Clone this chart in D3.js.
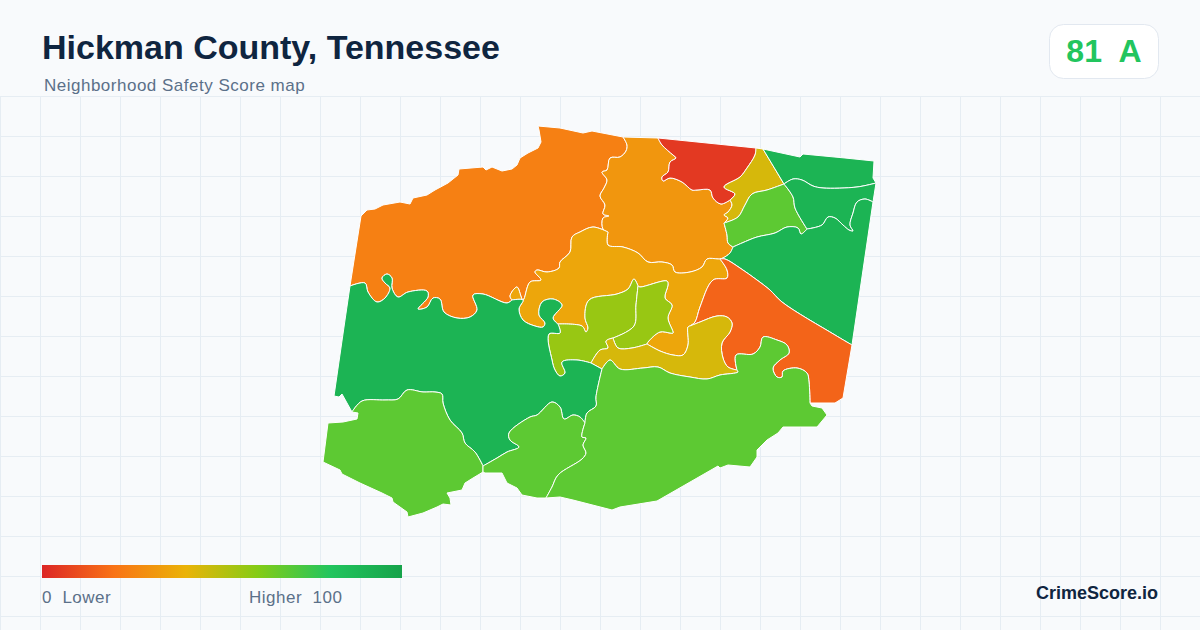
<!DOCTYPE html>
<html>
<head>
<meta charset="utf-8">
<script src="https://cdn.jsdelivr.net/npm/d3@7"></script>
<style>
html, body { margin: 0; padding: 0; background: #f8fafc; }
svg { display: block; }
text { font-family: "Liberation Sans", Arial, sans-serif; white-space: pre; }
</style>
</head>
<body>
<script>
var width = 1200;
var height = 630;

// legend colour ramp
var rampScores = [0, 20, 40, 60, 80, 100];
var rampColors = ['#dc2626', '#f97316', '#eab308', '#84cc16', '#22c55e', '#16a34a'];

// shared borders (planar map units)
var westCoast = [[350,286],[361,216],[367,210],[375,209],[383,205],[400,202],[410,204],[413,198],[427,195],[435,190],[448,183],[458,175],[459,169],[483,167],[486,170],[492,167],[502,171],[512,169],[517,165],[520,158],[528,153],[538,148],[541,142],[539,130],[538,126],[560,128],[583,133],[592,131],[623,137]];
var nwN = [[623,137],[627,145],[626,151],[620,157],[610,158],[607,170],[602,172],[607,180],[604,188],[600,196],[605,205],[603,214],[609,216],[603,218],[603,229],[608,232]];
var nwG = [[608,232],[593,227],[580,232],[572,237],[570,252],[560,262],[559,268],[547,272],[537,270],[535,272],[541,280],[530,282],[523,300],[517,287],[510,296],[512,300]];
var nwK = [[350,286],[365,283],[368,292],[377,302],[385,298],[390,288],[385,283],[382,278],[387,274],[392,278],[392,288],[398,297],[408,292],[427,291],[428,297],[418,309],[427,307],[433,298],[440,299],[444,312],[457,318],[470,317],[477,310],[473,295],[483,294],[507,303],[512,300]];
var gK = [[512,300],[523,300],[519,309],[523,320],[535,326],[543,327],[545,323],[539,315],[542,302],[553,299],[562,305],[553,318],[558,324]];
var gIw = [[558,324],[582,326],[586,332],[588,328],[585,318],[589,300],[617,294],[628,289],[634,279],[638,286]];
var gIe = [[638,286],[640,287],[667,281],[668,285],[665,298],[672,305],[668,318],[673,333],[670,333],[660,332],[648,342],[647,344]];
var gJ = [[647,344],[660,351],[673,355],[683,355],[688,345],[688,327],[690,326]];
var gH = [[690,326],[695,322],[700,307],[713,280],[727,278],[727,270],[720,259]];
var gN = [[608,232],[608,245],[623,247],[638,253],[648,262],[662,262],[672,265],[675,272],[690,272],[702,267],[707,259],[718,259],[720,259]];
var nTop = [[623,137],[658,138]];
var nC = [[658,138],[662,145],[673,155],[676,158],[670,162],[668,172],[662,177],[663,181],[670,178],[682,182],[692,190],[697,190],[710,190],[713,198],[721,204],[730,200]];
var nD = [[730,200],[732,205],[728,212],[724,215],[728,218],[724,223]];
var nF = [[724,223],[727,235],[728,243],[733,247]];
var nE = [[733,247],[730,253],[723,258],[720,259]];
var cTop = [[658,138],[756,148]];
var cD = [[756,148],[755,155],[747,168],[740,177],[724,187],[735,194],[730,200]];
var dTop = [[756,148],[763,149]];
var dE = [[763,149],[784,184]];
var dF = [[784,184],[767,190],[752,194],[745,205],[738,217],[724,223]];
var fEm = [[784,184],[793,197],[795,208],[807,229]];
var fE = [[807,229],[801,234],[798,228],[787,227],[775,233],[757,237],[742,243],[733,247]];
var eTop = [[763,149],[800,157],[803,154],[845,158],[874,161],[873,178],[876,183]];
var eSplit = [[876,183],[857,187],[823,188],[813,186],[802,180],[793,179],[784,184]];
var emEast = [[876,183],[873,202]];
var emBig = [[807,229],[822,225],[828,217],[835,218],[843,225],[849,230],[853,231],[850,225],[853,213],[857,202],[865,199],[873,202]];
var eEast = [[873,202],[852,345]];
var eH = [[852,345],[835,335],[782,302],[770,290],[757,280],[740,268],[725,259],[720,259]];
var hSouth = [[852,345],[843,398],[835,403],[810,403]];
var hJ = [[690,326],[700,322],[717,316],[727,317],[732,323],[730,332],[722,343],[723,358],[728,367],[737,370]];
var hL = [[737,370],[736,355],[753,354],[760,347],[763,337],[777,340],[787,345],[789,353],[780,360],[773,368],[777,377],[782,377],[783,371],[797,368],[807,373],[809,382],[810,403]];
var jL = [[737,370],[738,372],[720,375],[707,379],[690,377],[670,373],[658,367],[643,368],[620,369],[610,360],[602,369]];
var jK = [[602,369],[591,363]];
var jI = [[591,363],[600,350],[608,348],[606,341],[613,338]];
var jIe = [[613,338],[618,348],[632,348],[647,344]];
var iSplit = [[613,338],[634,326],[636,305],[638,286]];
var iK = [[591,363],[577,360],[562,362],[565,373],[560,376],[555,370],[552,360],[549,334],[560,333],[558,324]];
var kWest = [[350,286],[345,320],[334,396],[339,397],[342,394],[352,412]];
var kSw = [[352,412],[362,401],[385,400],[398,399],[407,390],[423,392],[435,392],[442,394],[443,403],[450,420],[462,433],[465,443],[475,452],[483,466]];
var kS = [[483,466],[497,458],[507,452],[519,447],[510,440],[509,433],[530,417],[537,415],[552,402],[560,407],[564,419],[573,415],[580,417],[585,423]];
var kL = [[585,423],[587,413],[596,406],[596,397],[602,369]];
var swCoast = [[483,466],[483,472],[473,478],[465,483],[462,490],[447,493],[450,498],[451,505],[443,504],[437,507],[423,513],[408,517],[407,512],[393,502],[392,498],[382,493],[360,483],[342,474],[340,470],[323,462],[328,423],[343,422],[357,419],[358,413],[352,412]];
var sSplit = [[585,423],[582,437],[586,438],[583,445],[586,453],[582,459],[558,475],[552,487],[546,498]];
var sCoast = [[483,466],[483,472],[485,473],[502,473],[507,483],[517,488],[522,495],[537,498],[546,498]];
var lCoast = [[546,498],[560,497],[573,500],[612,510],[620,507],[657,501],[718,466],[720,468],[728,465],[750,467],[757,457],[757,450],[767,440],[778,433],[783,427],[817,427],[827,415],[822,408],[812,406],[810,403]];

// neighbourhood scores
var regionScores = [24, 31, 5, 44, 68, 90, 90, 90, 36, 16, 56, 56, 44, 90, 68, 68, 68];

// the county outline stays angular, inner borders get smoothed
[westCoast, nTop, cTop, dTop, eTop, emEast, eEast, hSouth, kWest, swCoast, sCoast, lCoast].forEach(function(a) {
    a.outer = true;
});

function back(arc) {
    var r = arc.slice().reverse();
    r.outer = arc.outer;
    return r;
}

var regionRings = [
    [westCoast, nwN, nwG, back(nwK)],
    [nTop, nC, nD, nF, nE, back(gN), back(nwN)],
    [cTop, cD, back(nC)],
    [dTop, dE, dF, back(nD), back(cD)],
    [back(dF), fEm, fE, back(nF)],
    [eTop, eSplit, back(dE)],
    [emEast, back(emBig), back(fEm), back(eSplit)],
    [emBig, eEast, eH, back(nE), back(fE)],
    [gN, back(gH), back(gJ), back(gIe), back(gIw), back(gK), back(nwG)],
    [gH, back(eH), hSouth, back(hL), back(hJ)],
    [gIw, back(iSplit), back(jI), iK],
    [gIe, back(jIe), iSplit],
    [gJ, hJ, jL, jK, jI, jIe],
    [nwK, gK, back(iK), back(jK), back(kL), back(kS), back(kSw), back(kWest)],
    [kSw, swCoast],
    [kS, sSplit, back(sCoast)],
    [back(jL), hL, back(lCoast), back(sSplit), kL]
];

var svg = d3.select('body')
    .append('svg')
    .attr('width', width)
    .attr('height', height);

svg.append('rect')
    .attr('width', width)
    .attr('height', height)
    .attr('fill', '#f8fafc');

// background grid
var grid = svg.append('g')
    .attr('stroke', '#e6edf3')
    .attr('stroke-width', 1);

grid.selectAll('.v')
    .data(d3.range(0, width, 40))
    .enter()
    .append('line')
    .attr('x1', function(d) { return d + 0.5; })
    .attr('x2', function(d) { return d + 0.5; })
    .attr('y1', 96)
    .attr('y2', height);

grid.selectAll('.h')
    .data(d3.range(96, height, 40))
    .enter()
    .append('line')
    .attr('x1', 0)
    .attr('x2', width)
    .attr('y1', function(d) { return d + 0.5; })
    .attr('y2', function(d) { return d + 0.5; });

var color = d3.scaleLinear()
    .domain(rampScores)
    .range(rampColors);

// each border gets its own curve so neighbours line up exactly
var innerLine = d3.line().curve(d3.curveCatmullRom.alpha(0.5));
var outerLine = d3.line();

function ringPath(arcs) {
    var d = arcs.map(function(a, i) {
        var s = a.outer ? outerLine(a) : innerLine(a);
        return i === 0 ? s : 'L' + s.slice(1);
    });
    return d.join('') + 'Z';
}

svg.append('g')
    .selectAll('path')
    .data(regionRings)
    .enter()
    .append('path')
    .attr('d', ringPath)
    .attr('fill', function(d, i) { return color(regionScores[i]); })
    .attr('stroke', '#ffffff')
    .attr('stroke-width', 1)
    .attr('stroke-linejoin', 'round');

// header
svg.append('text')
    .attr('x', 42)
    .attr('y', 59)
    .attr('font-size', 34)
    .attr('font-weight', 700)
    .attr('fill', '#0f2540')
    .text('Hickman County, Tennessee');

svg.append('text')
    .attr('x', 44)
    .attr('y', 91)
    .attr('font-size', 17)
    .attr('letter-spacing', 0.5)
    .attr('fill', '#5b7089')
    .text('Neighborhood Safety Score map');

// score badge
svg.append('rect')
    .attr('x', 1049.5)
    .attr('y', 24.5)
    .attr('width', 109)
    .attr('height', 54)
    .attr('rx', 14)
    .attr('fill', '#ffffff')
    .attr('stroke', '#e2e8f0');

svg.append('text')
    .attr('x', 1104)
    .attr('y', 62)
    .attr('text-anchor', 'middle')
    .attr('font-size', 32)
    .attr('font-weight', 700)
    .attr('fill', '#22c55e')
    .text('81  A');

// legend
var legendX = d3.scaleLinear().domain([0, 100]).range([42, 402]);

var gradient = svg.append('defs')
    .append('linearGradient')
    .attr('id', 'ramp');

gradient.selectAll('stop')
    .data(rampScores)
    .enter()
    .append('stop')
    .attr('offset', function(d) { return d + '%'; })
    .attr('stop-color', function(d, i) { return rampColors[i]; });

svg.append('rect')
    .attr('x', legendX(0))
    .attr('y', 565)
    .attr('width', legendX(100) - legendX(0))
    .attr('height', 13)
    .attr('fill', 'url(#ramp)');

svg.append('text')
    .attr('x', 42)
    .attr('y', 603)
    .attr('font-size', 17)
    .attr('letter-spacing', 0.5)
    .attr('fill', '#5b7089')
    .text('0  Lower');

svg.append('text')
    .attr('x', 249)
    .attr('y', 603)
    .attr('font-size', 17)
    .attr('letter-spacing', 0.5)
    .attr('fill', '#5b7089')
    .text('Higher  100');

svg.append('text')
    .attr('x', 1158)
    .attr('y', 599)
    .attr('text-anchor', 'end')
    .attr('font-size', 18)
    .attr('font-weight', 700)
    .attr('fill', '#0f2540')
    .text('CrimeScore.io');
</script>
</body>
</html>
